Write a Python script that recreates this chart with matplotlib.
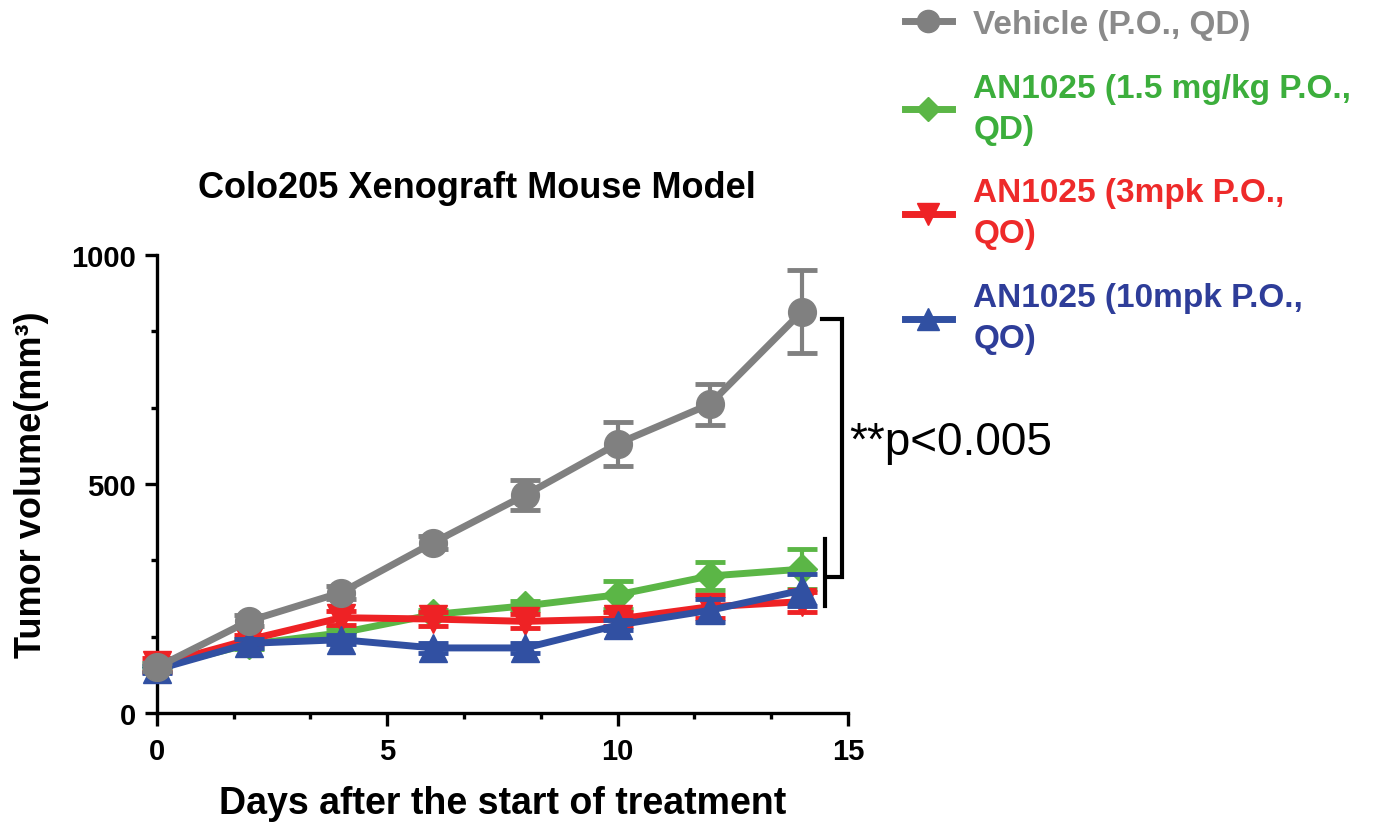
import numpy as np
import matplotlib.pyplot as plt
from matplotlib.lines import Line2D
from matplotlib.ticker import MultipleLocator

plt.rcParams['font.family'] = ['Liberation Sans', 'DejaVu Sans']

# data (mean +/- SEM)
days = [0, 2, 4, 6, 8, 10, 12, 14]

vehicle = [100, 201, 263, 372, 476, 588, 674, 876]
vehicle_err = [8, 12, 15, 15, 33, 48, 45, 91]

low_dose = [100, 150, 175, 215, 234, 258, 299, 314]
low_dose_err = [8, 10, 10, 10, 10, 30, 30, 44]

mid_dose = [105, 160, 208, 205, 200, 205, 232, 243]
mid_dose_err = [15, 10, 15, 15, 15, 15, 25, 22]

high_dose = [95, 152, 160, 142, 142, 192, 224, 268]
high_dose_err = [8, 10, 10, 10, 10, 10, 25, 35]

labels = ["Vehicle (P.O., QD)",
          "AN1025 (1.5 mg/kg P.O.,\nQD)",
          "AN1025 (3mpk P.O.,\nQO)",
          "AN1025 (10mpk P.O.,\nQO)"]

# bracket for the significance mark (axis units)
BRACKET_X = (14.43, 14.87, 14.52)
BRACKET_Y = (860, 297)
SUB_X = 14.50
SUB_Y = (380, 234)


def main():
    fig = plt.figure(figsize=(13.95, 8.37), dpi=100)
    ax = fig.add_axes([0.1125, 0.1470, 0.4953, 0.5472])

    series = [
        (low_dose, low_dose_err, '#5bb646', 'D', 15, 2),
        (mid_dose, mid_dose_err, '#ee2225', 'v', 20, 3),
        (high_dose, high_dose_err, '#3150a2', '^', 20, 4),
        (vehicle, vehicle_err, '#808080', 'o', 20, 5),
    ]
    for vals, err, col, mk, ms, z in series:
        ax.errorbar(days, vals, yerr=err, color=col, marker=mk, markersize=ms,
                    lw=5, elinewidth=3, capsize=11, capthick=3.5,
                    clip_on=False, zorder=z)

    ax.set_xlim(0, 15)
    ax.set_ylim(0, 1000)
    ax.xaxis.set_major_locator(MultipleLocator(5))
    ax.xaxis.set_minor_locator(MultipleLocator(5 / 3))
    ax.yaxis.set_major_locator(MultipleLocator(500))
    ax.yaxis.set_minor_locator(MultipleLocator(500 / 3))

    for side in ['top', 'right']:
        ax.spines[side].set_visible(False)
    for side in ['left', 'bottom']:
        ax.spines[side].set_linewidth(2.4)
    ax.tick_params(which='major', length=9, width=2.4, labelsize=21, pad=6)
    ax.tick_params(which='minor', length=4.5, width=2.4)
    ax.tick_params(axis='x', which='major', pad=8)
    for t in ax.get_xticklabels() + ax.get_yticklabels():
        t.set_fontweight('bold')

    ax.set_xlabel("Days after the start of treatment", fontsize=27, fontweight='bold', va='top')
    ax.xaxis.set_label_coords(0.5, -0.158)
    ax.set_ylabel("Tumor volume(mm³)", fontsize=26, fontweight='bold', va='center')
    ax.yaxis.set_label_coords(-0.181, 0.5)

    fig.text(477 / 1395, 1 - 188 / 837, "Colo205 Xenograft Mouse Model",
             fontsize=26, fontweight='bold', ha='center', va='center')

    # significance bracket
    ax.plot([BRACKET_X[0], BRACKET_X[1], BRACKET_X[1], BRACKET_X[2]],
            [BRACKET_Y[0], BRACKET_Y[0], BRACKET_Y[1], BRACKET_Y[1]],
            color='black', lw=3, clip_on=False, solid_joinstyle='miter')
    ax.plot([SUB_X, SUB_X], SUB_Y, color='black', lw=3, clip_on=False)
    ax.text(15.04, 592, "**p<0.005", fontsize=33, ha='left', va='center')

    handles = [Line2D([], [], color=c, marker=m, markersize=ms * 0.8, lw=5)
               for c, m, ms in [('#808080', 'o', 20), ('#5bb646', 'D', 15),
                                ('#ee2225', 'v', 20), ('#3150a2', '^', 20)]]
    leg = fig.legend(handles, labels, loc='upper left',
                     bbox_to_anchor=(905 / 1395, 1 - 10 / 837),
                     frameon=False, borderpad=0, borderaxespad=0,
                     handlelength=1.4, handletextpad=0.65, labelspacing=0.98,
                     prop={'size': 24, 'weight': 'bold'})
    for t, c in zip(leg.get_texts(), ['#8a8a8a', '#3cae3c', '#ee2a2a', '#2e3d99']):
        t.set_color(c)
        t.set_linespacing(1.42)

    fig.savefig('out.png', dpi=100)


if __name__ == "__main__":
    main()
